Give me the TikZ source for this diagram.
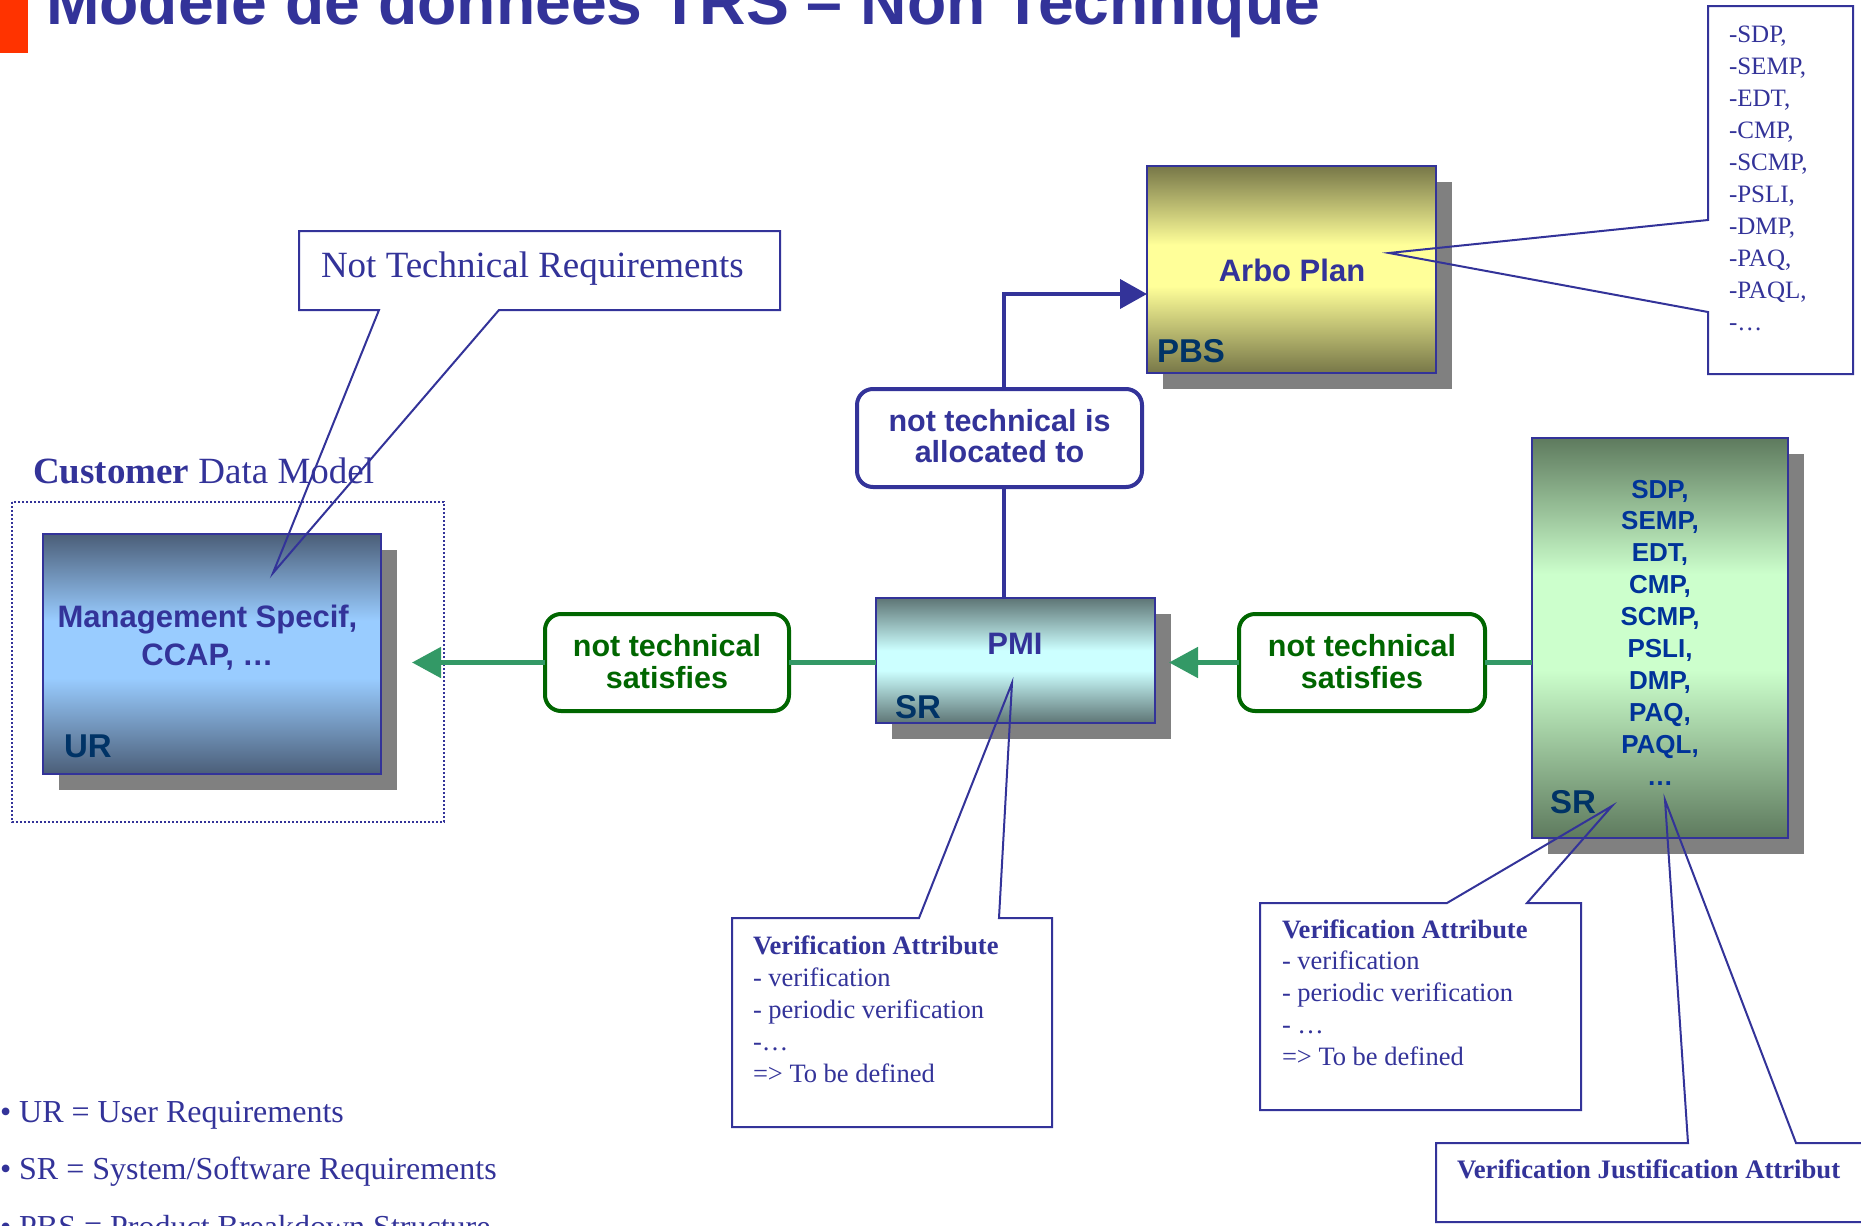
\documentclass[tikz,border=0pt]{standalone}
\usepackage{fontspec}
\setmainfont{Liberation Serif}
\setsansfont{Liberation Sans}
\usetikzlibrary{arrows.meta,calc,backgrounds}

% palette
\definecolor{ink}{HTML}{333399}
\definecolor{navy}{HTML}{003366}
\definecolor{listblue}{HTML}{003399}
\definecolor{titlered}{HTML}{FF3300}
\definecolor{okgreen}{HTML}{006600}
\definecolor{linkgreen}{HTML}{339966}
\definecolor{shadowgray}{HTML}{808080}
\definecolor{urdark}{HTML}{4B5E78}
\definecolor{urlight}{HTML}{99CCFF}
\definecolor{srdark}{HTML}{5E7575}
\definecolor{srlight}{HTML}{CCFFFF}
\definecolor{lsdark}{HTML}{5E7A5E}
\definecolor{lslight}{HTML}{CCFFCC}
\definecolor{pbsdark}{HTML}{777748}
\definecolor{pbslight}{HTML}{FFFF99}

% dark - light - dark vertical fills for the requirement boxes
\pgfdeclareverticalshading{urshade}{100bp}{color(0bp)=(urdark); color(25bp)=(urdark); color(45bp)=(urlight); color(57bp)=(urlight); color(75bp)=(urdark); color(100bp)=(urdark)}
\pgfdeclareverticalshading{srshade}{100bp}{color(0bp)=(srdark); color(25bp)=(srdark); color(46bp)=(srlight); color(54bp)=(srlight); color(75bp)=(srdark); color(100bp)=(srdark)}
\pgfdeclareverticalshading{lsshade}{100bp}{color(0bp)=(lsdark); color(25bp)=(lsdark); color(46bp)=(lslight); color(58bp)=(lslight); color(75bp)=(lsdark); color(100bp)=(lsdark)}
\pgfdeclareverticalshading{pbsshade}{100bp}{color(0bp)=(pbsdark); color(25bp)=(pbsdark); color(46bp)=(pbslight); color(56bp)=(pbslight); color(75bp)=(pbsdark); color(100bp)=(pbsdark)}

\newcommand\fsz[2]{\fontsize{#1}{#2}\selectfont}

\begin{document}
\begin{tikzpicture}[x=1pt,y=-1pt,
  txt/.style={inner sep=0pt, outer sep=0pt},
  reqbox/.style={draw=ink, line width=2pt, inner sep=0pt, outer sep=0pt, shade},
  linkbox/.style={rounded corners=16pt, line width=4pt, fill=white, inner sep=0pt, outer sep=0pt},
  boxfont/.style={font=\sffamily\bfseries\fsz{31}{38}, text=ink},
  tagfont/.style={font=\sffamily\bfseries\fsz{33}{33}, text=navy},
  callout/.style={draw=ink, line width=2pt, line join=miter},
  blueline/.style={draw=ink, line width=4pt},
  bluearrow/.style={blueline, line join=miter, -{Triangle[length=27pt,width=29pt]}},
  greenline/.style={draw=linkgreen, line width=5pt},
  greenarrow/.style={greenline, -{Triangle[length=29pt,width=30pt]}}]

\useasboundingbox (0,0) rectangle (1861,1226);
\clip (0,0) rectangle (1861,1226);
\begin{scope}[on background layer]
  \fill[white] (0,0) rectangle (1861,1226);
\end{scope}

% title bar
\fill[titlered] (0,0) rectangle (28,53);
\node[txt, anchor=base west, font=\sffamily\bfseries\fsz{64.3}{64}, text=ink] (title) at (46,24) {Modèle de données TRS – Non Technique};

% customer data model frame
\node[txt, anchor=base west, font=\fsz{37}{44}, text=ink] (cdm) at (33,483) {\textbf{Customer} Data Model};
\draw[ink, line width=2pt, dash pattern=on 2pt off 2pt] (12,502) rectangle (444,822);

% requirement boxes
\node[reqbox, shading=urshade, minimum width=338pt, minimum height=240pt] (ur) at (212,654) {};
\node[reqbox, shading=srshade, minimum width=279pt, minimum height=125pt] (pmi) at (1015.5,660.5) {};
\node[reqbox, shading=pbsshade, minimum width=289pt, minimum height=207pt] (arbo) at (1291.5,269.5) {};
\node[reqbox, shading=lsshade, minimum width=256pt, minimum height=400pt] (sdp) at (1660,638) {};

% drop shadows behind the boxes
\begin{scope}[on background layer]
  \foreach \b in {ur,pmi,arbo,sdp}
    \fill[shadowgray] ([shift={(16,16)}]\b.north west) rectangle ([shift={(16,16)}]\b.south east);
\end{scope}

% texts inside the boxes
\node[txt, anchor=base, boxfont] (urtext) at (207.5,627) {\begin{tabular}[t]{@{}c@{}}Management Specif,\\CCAP, …\end{tabular}};
\node[txt, anchor=base west, tagfont] (urtag) at (64,757) {UR};
\node[txt, anchor=base, boxfont] (pmitext) at (1015,654) {PMI};
\node[txt, anchor=base west, tagfont] (pmitag) at (895,718) {SR};
\node[txt, anchor=base, boxfont] (arbotext) at (1292,281) {Arbo Plan};
\node[txt, anchor=base west, tagfont] (arbotag) at (1157,362) {PBS};
\node[txt, anchor=base, font=\sffamily\bfseries\fsz{26}{31.9}, text=listblue] (sdptext) at (1660,498)
  {\begin{tabular}[t]{@{}c@{}}SDP,\\SEMP,\\EDT,\\CMP,\\SCMP,\\PSLI,\\DMP,\\PAQ,\\PAQL,\\…\end{tabular}};
\node[txt, anchor=base west, tagfont] (sdptag) at (1550,813) {SR};

% relation labels
\node[linkbox, draw=ink, minimum width=285pt, minimum height=98pt] (alloc) at (999.5,438) {};
\node[txt, anchor=base, font=\sffamily\bfseries\fsz{30.5}{31}, text=ink] (alloctext) at (999.5,431)
  {\begin{tabular}[t]{@{}c@{}}not technical is\\allocated to\end{tabular}};
\node[linkbox, draw=okgreen, minimum width=244pt, minimum height=97pt] (satl) at (667,662.5) {};
\node[txt, anchor=base, font=\sffamily\bfseries\fsz{30.5}{32}, text=okgreen] (satltext) at (667,656)
  {\begin{tabular}[t]{@{}c@{}}not technical\\satisfies\end{tabular}};
\node[linkbox, draw=okgreen, minimum width=246pt, minimum height=97pt] (satr) at (1362,662.5) {};
\node[txt, anchor=base, font=\sffamily\bfseries\fsz{30.5}{32}, text=okgreen] (satrtext) at (1362,656)
  {\begin{tabular}[t]{@{}c@{}}not technical\\satisfies\end{tabular}};

% connectors
\coordinate (vx) at ($(alloc.south)+(4.5,0)$);
\coordinate (arbin) at ($(arbo.west)+(0,24.5)$);
\draw[blueline] (vx |- pmi.north) -- (vx |- alloc.south);
\draw[bluearrow] (vx |- alloc.north) |- (arbin);
\draw[greenline] (pmi.west |- satl.east) -- (satl.east);
\draw[greenarrow] (satl.west) -- ($(ur.east |- satl.west)+(31,0)$);
\draw[greenline] (sdp.west |- satr.east) -- (satr.east);
\draw[greenarrow] (satr.west) -- ($(pmi.east |- satr.west)+(14,0)$);

% callouts
\draw[callout] (299,231) -- (780,231) -- (780,310) -- (499,310) -- (273,573) -- (379,310) -- (299,310) -- cycle;
\node[txt, anchor=base west, font=\fsz{37}{44}, text=ink] (ntr) at (321,277) {Not Technical Requirements};

\draw[callout] (1708,6) -- (1853,6) -- (1853,374) -- (1708,374) -- (1708,312) -- (1389,253) -- (1708,220) -- cycle;
\node[txt, anchor=base west, font=\fsz{25}{32}, text=ink] (plans) at (1729,42)
  {\begin{tabular}[t]{@{}l@{}}-SDP,\\-SEMP,\\-EDT,\\-CMP,\\-SCMP,\\-PSLI,\\-DMP,\\-PAQ,\\-PAQL,\\-…\end{tabular}};

\draw[callout] (732,918) -- (919,918) -- (1012,683) -- (999,918) -- (1052,918) -- (1052,1127) -- (732,1127) -- cycle;
\node[txt, anchor=base west, font=\fsz{26.5}{32}, text=ink] (vattl) at (753,954)
  {\begin{tabular}[t]{@{}l@{}}\textbf{Verification Attribute}\\- verification\\- periodic verification\\-…\\=> To be defined\end{tabular}};

\draw[callout] (1260,903) -- (1447,903) -- (1612,806) -- (1527,903) -- (1581,903) -- (1581,1110) -- (1260,1110) -- cycle;
\node[txt, anchor=base west, font=\fsz{26.5}{31.8}, text=ink] (vattr) at (1282,938)
  {\begin{tabular}[t]{@{}l@{}}\textbf{Verification Attribute}\\- verification\\- periodic verification\\- …\\=> To be defined\end{tabular}};

\draw[callout] (1436,1143) -- (1688,1143) -- (1665,800) -- (1796,1143) -- (1875,1143) -- (1875,1222) -- (1436,1222) -- cycle;
\node[txt, anchor=base west, font=\bfseries\fsz{26.7}{32}, text=ink] (vjust) at (1457,1178) {Verification Justification Attribut};

% legend
\node[txt, anchor=base west, font=\fsz{32}{57.5}, text=ink] (legend) at (0,1122)
  {\begin{tabular}[t]{@{}l@{}}• UR = User Requirements\\• SR = System/Software Requirements\\• PBS = Product Breakdown Structure\end{tabular}};
\end{tikzpicture}
\end{document}
